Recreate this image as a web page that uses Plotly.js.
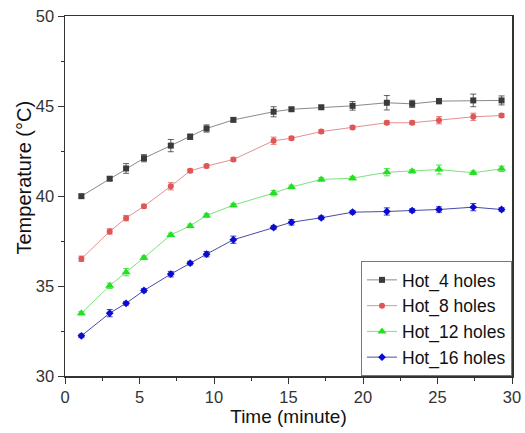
<!DOCTYPE html>
<html><head><meta charset="utf-8">
<script src="https://cdn.plot.ly/plotly-3.0.1.min.js"></script>
<style>body{margin:0;background:#fff}#c{width:525px;height:433px}</style>
</head><body><div id="c"></div>
<script>
const time = [1.1, 3.0, 4.1, 5.3, 7.1, 8.4, 9.5, 11.3, 14.0, 15.2, 17.2, 19.3, 21.6, 23.3, 25.1, 27.4, 29.3];
const hot4 = [39.99, 40.96, 41.53, 42.1, 42.8, 43.29, 43.75, 44.23, 44.68, 44.82, 44.93, 45.01, 45.18, 45.12, 45.27, 45.31, 45.31];
const hot4Err = [0.1, 0.1, 0.27, 0.2, 0.34, 0.15, 0.2, 0.1, 0.28, 0.1, 0.1, 0.24, 0.4, 0.2, 0.15, 0.35, 0.25];
const hot8 = [36.51, 38.03, 38.77, 39.43, 40.54, 41.4, 41.66, 42.03, 43.07, 43.21, 43.58, 43.81, 44.07, 44.07, 44.21, 44.4, 44.47];
const hot8Err = [0.15, 0.15, 0.15, 0.1, 0.2, 0.1, 0.1, 0.1, 0.2, 0.1, 0.1, 0.1, 0.1, 0.1, 0.2, 0.2, 0.1];
const hot12 = [33.49, 35.01, 35.77, 36.57, 37.84, 38.34, 38.92, 39.49, 40.16, 40.5, 40.92, 40.99, 41.32, 41.38, 41.47, 41.29, 41.51];
const hot12Err = [0.1, 0.15, 0.2, 0.1, 0.1, 0.1, 0.1, 0.1, 0.15, 0.1, 0.1, 0.1, 0.2, 0.1, 0.25, 0.1, 0.15];
const hot16 = [32.23, 33.49, 34.04, 34.75, 35.66, 36.27, 36.77, 37.57, 38.25, 38.54, 38.79, 39.1, 39.14, 39.19, 39.25, 39.38, 39.25];
const hot16Err = [0.1, 0.2, 0.1, 0.1, 0.15, 0.1, 0.15, 0.2, 0.1, 0.15, 0.1, 0.1, 0.2, 0.1, 0.15, 0.2, 0.1];
const names = ["Hot_4 holes", "Hot_8 holes", "Hot_12 holes", "Hot_16 holes"];
const xTitle = "Time (minute)";
const yTitle = "Temperature (°C)";

const series = [
  {y: hot4, e: hot4Err, mc: "#3a3a3a", lc: "#8a8a8a", sym: "square"},
  {y: hot8, e: hot8Err, mc: "#e05555", lc: "#e49090", sym: "circle"},
  {y: hot12, e: hot12Err, mc: "#22e022", lc: "#7ee07e", sym: "triangle-up"},
  {y: hot16, e: hot16Err, mc: "#0a0ad0", lc: "#4a4aa8", sym: "diamond"}
];
const traces = series.map((s, i) => ({
  x: time, y: s.y, name: names[i], type: "scatter", mode: "lines+markers",
  line: {color: s.lc, width: 1},
  marker: {color: s.mc, symbol: s.sym, size: s.sym === "triangle-up" ? 8 : 6},
  error_y: {type: "data", array: s.e, visible: true, color: s.mc, thickness: 0.8, width: 3}
}));
const F = "Liberation Sans, Arial";
const axisCommon = {
  showline: true, linecolor: "#333", linewidth: 1.5, mirror: true,
  ticks: "outside", ticklen: 6, tickwidth: 1, tickcolor: "#333",
  showgrid: false, zeroline: false,
  tickfont: {family: F, size: 16.5, color: "#333"},
  minor: {ticks: "outside", ticklen: 3, tickcolor: "#333", dtick: 2.5, showgrid: false}
};
const layout = {
  width: 525, height: 433,
  margin: {l: 65, r: 13, t: 16, b: 57},
  paper_bgcolor: "#fff", plot_bgcolor: "#fff",
  showlegend: true,
  legend: {x: 1, y: 0, xanchor: "right", yanchor: "bottom", bordercolor: "#777", borderwidth: 1,
    bgcolor: "#fff", font: {family: F, size: 17.5, color: "#111"}, tracegroupgap: 0, itemwidth: 30},
  xaxis: Object.assign({}, axisCommon, {range: [0, 30], dtick: 5,
    title: {text: xTitle, font: {family: F, size: 19, color: "#111"}, standoff: 2}}),
  yaxis: Object.assign({}, axisCommon, {range: [30, 50], dtick: 5}),
  annotations: [{text: yTitle, textangle: -90, xref: "paper", yref: "paper",
    x: -0.092, y: 0.551, xanchor: "center", yanchor: "middle", showarrow: false,
    font: {family: F, size: 20, color: "#111"}}]
};
Plotly.newPlot("c", traces, layout, {displayModeBar: false, staticPlot: true});
</script></body></html>
